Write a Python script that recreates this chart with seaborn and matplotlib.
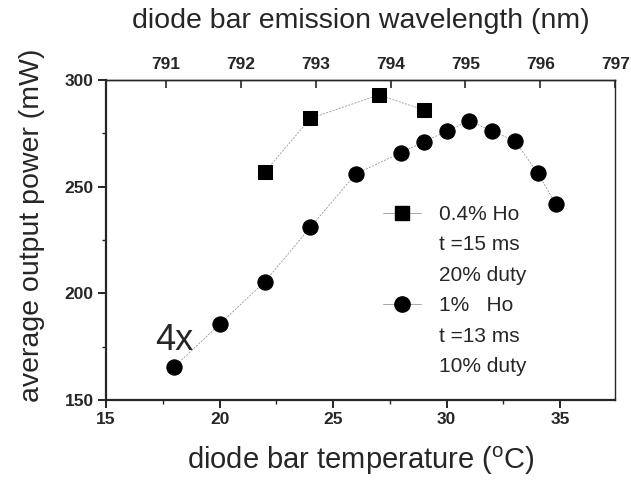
import matplotlib
matplotlib.use("Agg")
import matplotlib.pyplot as plt
import seaborn as sns
from matplotlib.lines import Line2D
from matplotlib.ticker import MultipleLocator

# data
temp_04 = [22, 24, 27, 29]
power_04 = [257, 282, 293, 286]
temp_1 = [18, 20, 22, 24, 26, 28, 29, 30, 31, 32, 33, 34, 34.8]
power_1 = [165.5, 185.5, 205.5, 231, 256, 266, 271, 276, 281, 276, 271.5, 256.5, 242]
wl_ticks = [791, 792, 793, 794, 795, 796, 797]

sns.set_style("ticks")
plt.rcParams['font.family'] = ['Liberation Sans', 'DejaVu Sans']
plt.rcParams['mathtext.fontset'] = 'custom'
plt.rcParams['mathtext.rm'] = 'Liberation Sans'

fig = plt.figure(figsize=(6.31, 4.84), dpi=100)
ax = fig.add_axes([0.168, 0.1736, 0.807, 0.6611])

line_kw = dict(color='0.6', linewidth=0.6, linestyle=(0, (2.5, 1.5)),
               markerfacecolor='black', markeredgecolor='black')
sns.lineplot(x=temp_04, y=power_04, marker='s', markersize=10, ax=ax, **line_kw)
sns.lineplot(x=temp_1, y=power_1, marker='o', markersize=11, ax=ax, **line_kw)

ax.set_xlim(15, 37.42)
ax.set_ylim(150, 300)
ax.xaxis.set_major_locator(MultipleLocator(5))
ax.xaxis.set_minor_locator(MultipleLocator(2.5))
ax.yaxis.set_major_locator(MultipleLocator(50))
ax.yaxis.set_minor_locator(MultipleLocator(25))
ax.tick_params(axis='both', which='major', direction='out', length=5.5, width=1.2,
               labelsize=12.5, color='black')
ax.tick_params(axis='both', which='minor', direction='out', length=3, width=1)
for lab in ax.get_xticklabels() + ax.get_yticklabels():
    lab.set_fontweight('bold')

for side in ['left', 'bottom']:
    ax.spines[side].set_linewidth(1.6)
for side in ['top', 'right']:
    ax.spines[side].set_visible(True)
    ax.spines[side].set_linewidth(1.0)

ax.set_xlabel(r'diode bar temperature ($^{\rm o}$C)', fontsize=21, labelpad=12)
ax.set_ylabel('average output power (mW)', fontsize=20.5)
ax.yaxis.set_label_coords(-0.12, 0.545)

# top axis: wavelength
def t2w(t):
    return 791 + (t - 17.643) / 3.296

def w2t(w):
    return 17.643 + (w - 791) * 3.296

sec = ax.secondary_xaxis('top', functions=(t2w, w2t))
sec.set_xticks(wl_ticks)
sec.tick_params(direction='in', length=6, width=1.2, labelsize=12.5, pad=6)
for lab in sec.get_xticklabels():
    lab.set_fontweight('bold')
sec.spines['top'].set_linewidth(1.0)
sec.set_xlabel('diode bar emission wavelength (nm)', fontsize=20.5, labelpad=21)

ax.text(18, 178, '4x', fontsize=26, ha='center', va='center')

handles = [
    Line2D([], [], color='0.6', lw=0.6, marker='s', markersize=10,
           markerfacecolor='black', markeredgecolor='black'),
    Line2D([], [], linestyle='none'),
    Line2D([], [], linestyle='none'),
    Line2D([], [], color='0.6', lw=0.6, marker='o', markersize=11,
           markerfacecolor='black', markeredgecolor='black'),
    Line2D([], [], linestyle='none'),
    Line2D([], [], linestyle='none'),
]
labels = ['0.4% Ho', 't =15 ms', '20% duty', '1%   Ho', 't =13 ms', '10% duty']
ax.legend(handles, labels, loc='upper left', bbox_to_anchor=(0.528, 0.636),
          frameon=False, fontsize=15, labelspacing=0.55, handlelength=1.8,
          handletextpad=0.9, borderaxespad=0)

fig.savefig('out.png', dpi=100)
